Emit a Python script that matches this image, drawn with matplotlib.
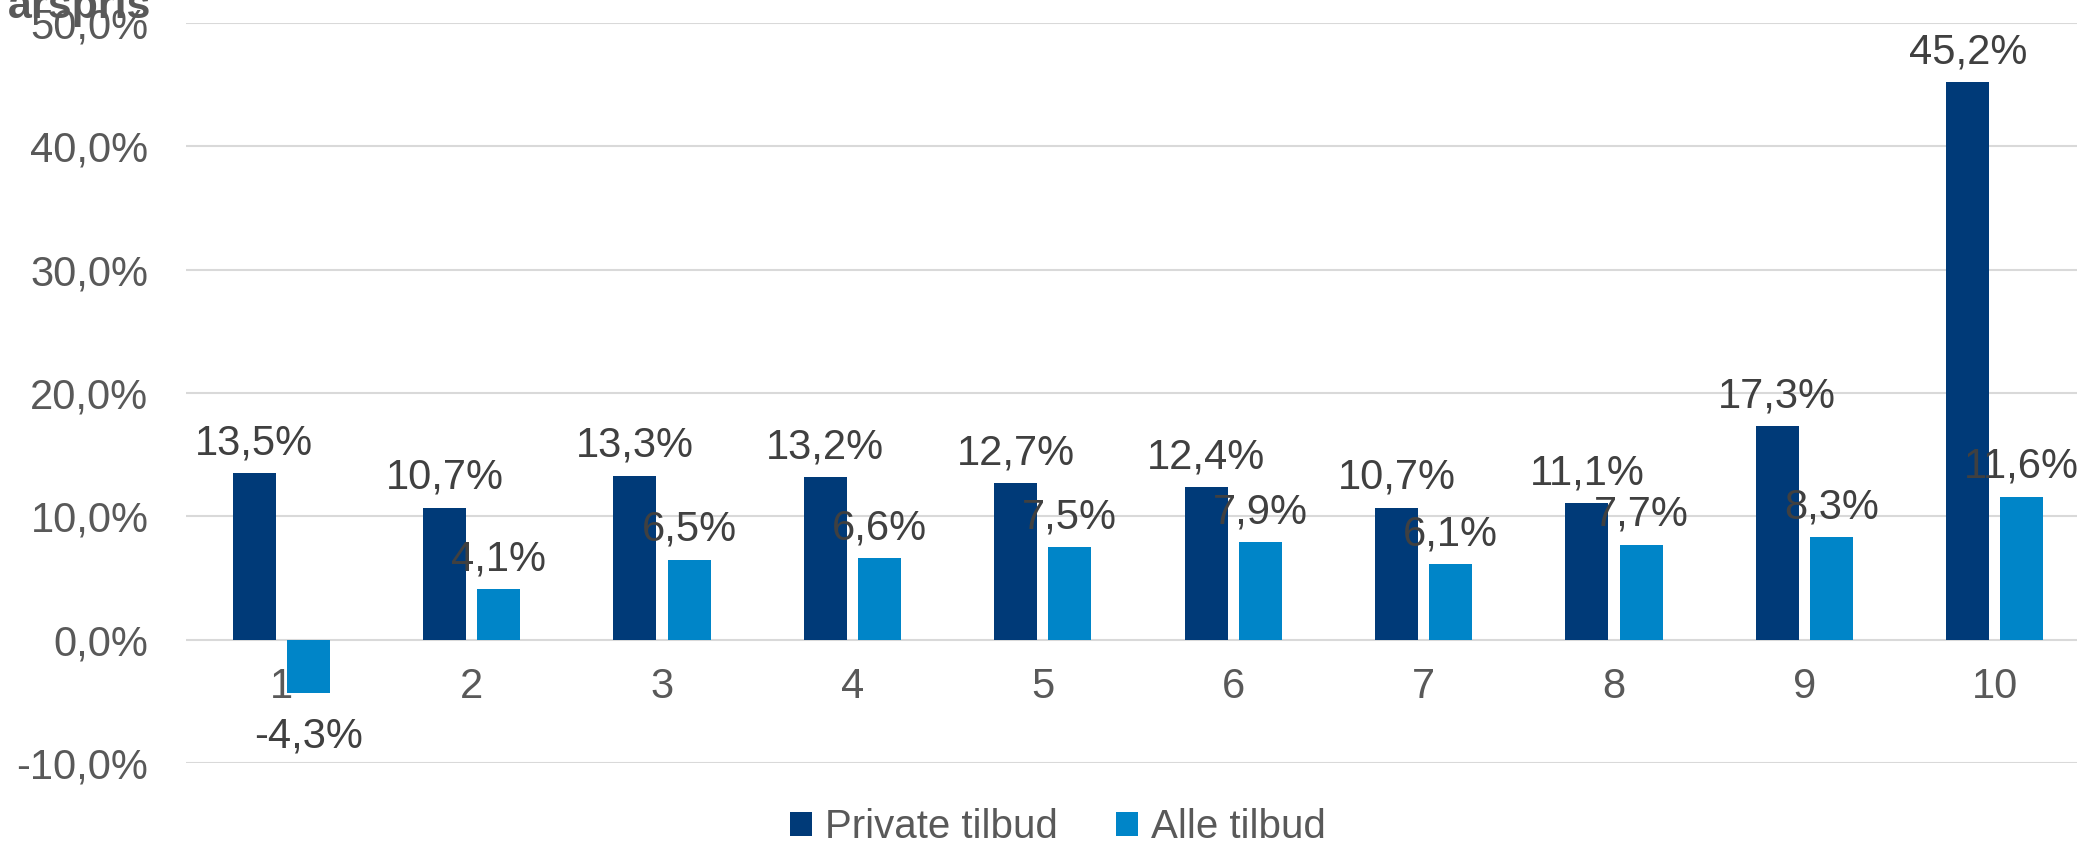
import numpy as np
import matplotlib
matplotlib.use("Agg")
import matplotlib.pyplot as plt

plt.rcParams['font.family'] = ['Liberation Sans', 'DejaVu Sans']

# data
categories = ["1", "2", "3", "4", "5", "6", "7", "8", "9", "10"]
private_tilbud = [13.5, 10.7, 13.3, 13.2, 12.7, 12.4, 10.7, 11.1, 17.3, 45.2]
alle_tilbud = [-4.3, 4.1, 6.5, 6.6, 7.5, 7.9, 6.1, 7.7, 8.3, 11.6]
yticks = [-10, 0, 10, 20, 30, 40, 50]

dark = "#003A78"
light = "#0085C8"
tick_col = "#595959"
lab_col = "#404040"
fs = 30

W, H = 2077, 847
fig = plt.figure(figsize=(W / 100, H / 100), dpi=100)
ax = fig.add_axes([186 / W, 1 - 763 / H, (2090 - 186) / W, (763 - 23) / H])

x = np.arange(len(categories))
bw = 0.226
off = 0.142
b1 = ax.bar(x - off, private_tilbud, bw, color=dark, label="Private tilbud", zorder=2)
b2 = ax.bar(x + off, alle_tilbud, bw, color=light, label="Alle tilbud", zorder=2)

fmt = lambda v: ("%.1f%%" % v).replace(".", ",")
for bars, vals in ((b1, private_tilbud), (b2, alle_tilbud)):
    for r, v in zip(bars, vals):
        cx = r.get_x() + r.get_width() / 2
        if v >= 0:
            ax.annotate(fmt(v), (cx, v), xytext=(0, 7), textcoords="offset points",
                        ha="center", va="bottom", fontsize=fs, color=lab_col, zorder=5)
        else:
            ax.annotate(fmt(v), (cx, v), xytext=(0, -17), textcoords="offset points",
                        ha="center", va="top", fontsize=fs, color=lab_col, zorder=5)

ax.set_xlim(-0.5, len(categories) - 0.5)
ax.set_ylim(-10, 50)
ax.set_yticks(yticks)
ax.set_yticklabels([("%.1f%%" % t).replace(".", ",") for t in yticks])
ax.set_xticks(x)
ax.set_xticklabels(categories)
ax.spines['bottom'].set_position(('data', 0))
ax.tick_params(axis="both", length=0, labelsize=fs, labelcolor=tick_col)
ax.tick_params(axis="y", pad=27)
ax.tick_params(axis="x", pad=20)
ax.grid(axis="y", color="#D9D9D9", linewidth=1.5)
ax.set_axisbelow(True)
for s in ax.spines.values():
    s.set_visible(False)

fig.text(8 / W, 1 - 18 / H, "årspris", fontsize=31, fontweight="bold", color=tick_col,
         ha="left", va="baseline")

fig.legend(handles=[b1, b2], loc="center", bbox_to_anchor=(1058 / W, 1 - 827 / H),
           ncol=2, frameon=False, labelcolor=tick_col, fontsize=29,
           handlelength=0.54, handleheight=0.53, handletextpad=0.32, columnspacing=1.45)

fig.savefig("out.png", dpi=100)
